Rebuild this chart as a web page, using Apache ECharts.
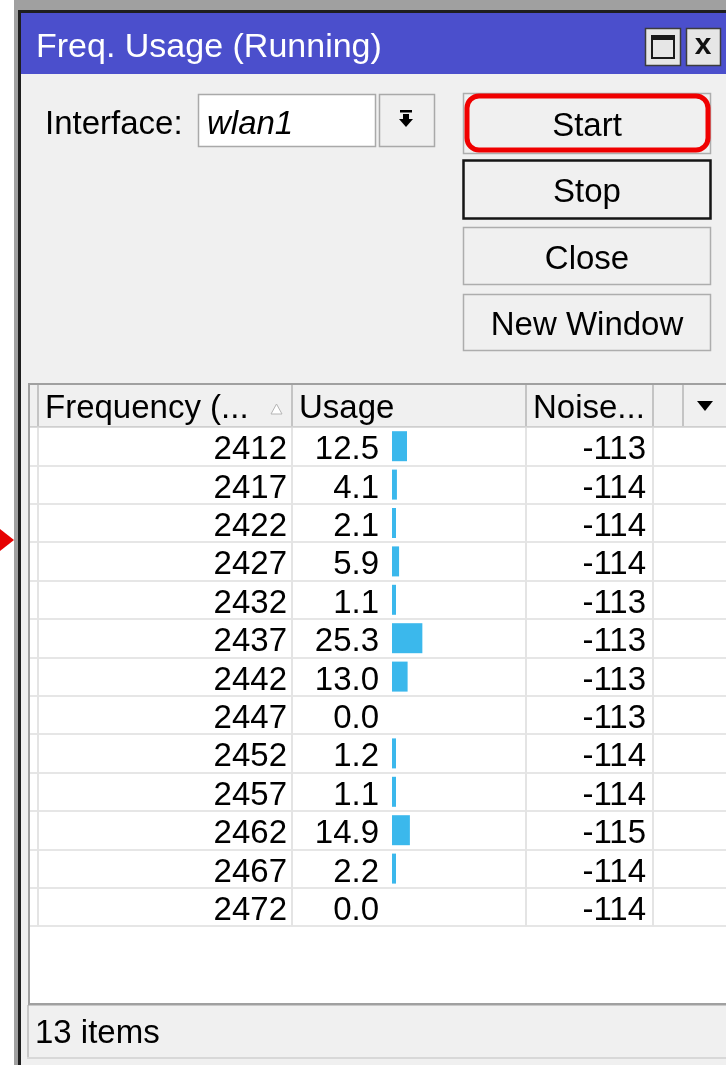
<!DOCTYPE html>
<html>
<head>
<meta charset="utf-8">
<title>Freq. Usage</title>
<script src="https://cdn.jsdelivr.net/npm/echarts@6/dist/echarts.min.js"></script>
<style>
html, body { margin: 0; padding: 0; background: #fff; }
#freqchart { width: 726px; height: 1065px; }
</style>
</head>
<body>
<div id="freqchart"></div>
<script>
var freqs = [2412, 2417, 2422, 2427, 2432, 2437, 2442, 2447, 2452, 2457, 2462, 2467, 2472];
var usage = [12.5, 4.1, 2.1, 5.9, 1.1, 25.3, 13.0, 0.0, 1.2, 1.1, 14.9, 2.2, 0.0];
var noise = [-113, -114, -114, -114, -113, -113, -113, -113, -114, -114, -115, -114, -114];
var columns = ['Frequency (...', 'Usage', 'Noise...'];
var buttons = ['Start', 'Stop', 'Close', 'New Window'];

var FONT = '"Liberation Sans", Arial, sans-serif';
var rowH = 38.4;
var tableTop = 427;
var tableBottom = tableTop + rowH * freqs.length;
var gridLeft = 30;
var gridWidth = 696;
var barX = 392;      // usage bars start here
var pxPerUnit = 1.2;

function box(x, y, w, h, fill, stroke, lw, z)
{
    return {
        type: 'rect', silent: true, z: z || 1,
        shape: {x: x, y: y, width: w, height: h},
        style: {fill: fill || 'none', stroke: stroke || null, lineWidth: lw || 0}
    };
}

function txt(str, x, y, size, opts)
{
    opts = opts || {};
    return {
        type: 'text', silent: true, z: 10,
        style: {
            text: str, x: x, y: y,
            font: (opts.italic ? 'italic ' : '') + (opts.bold ? 'bold ' : '') + size + 'px ' + FONT,
            fill: opts.color || '#000',
            align: opts.align || 'left', textAlign: opts.align || 'left',
            verticalAlign: 'middle', textVerticalAlign: 'middle'
        }
    };
}

function vline(x, y1, y2, color, lw)
{
    return {
        type: 'line', silent: true, z: 5,
        shape: {x1: x, y1: y1, x2: x, y2: y2},
        style: {stroke: color, lineWidth: lw || 1}
    };
}

function poly(points, fill, stroke)
{
    return {
        type: 'polygon', silent: true, z: 10,
        shape: {points: points},
        style: {fill: fill, stroke: stroke || null, lineWidth: 1}
    };
}

function windowchrome()
{
    var els = [];
    // frame + title
    els.push(box(14, 0, 712, 10, '#a0a0a0', null, 0, 0));
    els.push(box(14, 0, 5, 1065, '#a0a0a0', null, 0, 0));
    els.push(box(18, 10, 708, 3, '#1e1e1e', null, 0, 0));
    els.push(box(18, 10, 3, 1055, '#1e1e1e', null, 0, 0));
    els.push(box(21, 13, 705, 61, '#4b4fcc', null, 0, 0));
    els.push(txt('Freq. Usage (Running)', 36, 48, 34, {color: '#fff'}));

    els.push(box(645.5, 28.5, 35, 37, '#e6e6e6', '#3c3c3c', 1.5, 2));
    els.push(box(652, 36, 22, 22, 'none', '#1a1a1a', 2, 3));
    els.push(box(652, 36, 22, 4, '#1a1a1a', null, 0, 3));
    els.push(box(686.5, 28.5, 34, 37, '#e6e6e6', '#3c3c3c', 1.5, 2));
    els.push(txt('x', 703, 46, 30, {bold: true, align: 'center', color: '#111'}));

    // window body
    els.push(box(21, 74, 705, 991, '#f0f0f0', null, 0, 0));

    // arrow on the left
    els.push(poly([[0, 529], [14, 540], [0, 551]], '#e60000'));

    // interface selector
    els.push(txt('Interface:', 45, 125, 33));
    els.push(box(198.5, 94.5, 177, 52, '#fff', '#a9a9a9', 1.5, 1));
    els.push(txt('wlan1', 207, 125, 33, {italic: true}));
    els.push(box(379.5, 94.5, 55, 52, '#f0f0f0', '#a9a9a9', 1.5, 1));
    els.push(box(400, 110, 12, 2.5, '#000', null, 0, 3));
    els.push(poly([[403, 114], [409, 114], [409, 119], [413, 119], [406, 127], [399, 119], [403, 119]], '#000'));

    // buttons
    var tops = [93, 160, 227, 294];
    var hs = [60, 58, 57, 56];
    for (var i = 0; i < buttons.length; i++)
    {
        var stroke = buttons[i] == 'Stop' ? '#151515' : '#adadad';
        var lw = buttons[i] == 'Stop' ? 2.5 : 1.5;
        els.push(box(463.5, tops[i] + 0.5, 247, hs[i], '#f0f0f0', stroke, lw, 1));
        els.push(txt(buttons[i], 587, tops[i] + hs[i] / 2 + 4, 33, {align: 'center'}));
    }
    els.push({
        type: 'rect', silent: true, z: 4,
        shape: {x: 467, y: 96, width: 241, height: 54, r: 12},
        style: {fill: 'none', stroke: '#f00000', lineWidth: 5}
    });

    // table frame and header
    els.push(box(30, 427, 696, 578, '#fff', null, 0, 1));
    els.push(box(30, 385, 696, 42, '#f0f0f0', null, 0, 1));
    els.push(box(28, 383, 698, 2, '#a0a0a0', null, 0, 6));
    els.push(box(28, 383, 2, 622, '#a0a0a0', null, 0, 6));
    els.push(box(28, 1003, 698, 2.5, '#a0a0a0', null, 0, 6));
    els.push(box(30, 426, 696, 1.5, '#cfcfcf', null, 0, 6));
    var hsep = [38, 292, 526, 653, 683];
    for (var k = 0; k < hsep.length; k++)
        els.push(vline(hsep[k], 385, 427, '#c4c4c4', 2));
    var bsep = [38, 292, 526, 653];
    for (var m = 0; m < bsep.length; m++)
        els.push(vline(bsep[m], 427, tableBottom, '#e4e4e4', 2));

    els.push(txt(columns[0], 45, 409, 33));
    els.push(txt(columns[1], 299, 409, 33));
    els.push(txt(columns[2], 533, 409, 33));
    els.push(poly([[271, 414], [282, 414], [276.5, 404]], '#fff', '#b4b4b4'));
    els.push(poly([[697, 401], [713, 401], [705, 411]], '#000'));

    // status bar
    els.push(box(27, 1005, 2, 53, '#c8c8c8', null, 0, 2));
    els.push(box(27, 1057, 699, 2, '#d8d8d8', null, 0, 2));
    els.push(txt(freqs.length + ' items', 35, 1034, 33));
    return els;
}

// category axis; labels drawn inside the grid, right aligned at margin
function colaxis(data, grid, margin, withlines)
{
    return {
        type: 'category',
        gridIndex: grid,
        position: 'left',
        inverse: true,
        z: 3,
        data: data,
        axisLine: {show: false, onZero: false},
        axisTick: {show: false},
        splitLine: {show: withlines, lineStyle: {color: '#e6e6e6', width: 2}},
        axisLabel: {
            show: margin > 0,
            inside: true,
            align: 'right',
            margin: margin,
            interval: 0,
            color: '#000',
            fontSize: 33,
            fontFamily: FONT
        }
    };
}

var myChart = echarts.init(document.getElementById('freqchart'), null, {renderer: 'canvas'});

var option = {
    backgroundColor: '#fff',
    animation: false,
    grid: [
        {
            left: gridLeft, top: tableTop, width: gridWidth, height: rowH * freqs.length,
            containLabel: false, outerBoundsMode: 'none'
        },
        {
            // text rows sit a few pixels below the row centre
            left: gridLeft, top: tableTop + 4, width: gridWidth, height: rowH * freqs.length,
            containLabel: false, outerBoundsMode: 'none'
        }
    ],
    xAxis: [
        {
            type: 'value', gridIndex: 0,
            min: -(barX - gridLeft) / pxPerUnit,
            max: (gridLeft + gridWidth - barX) / pxPerUnit,
            show: false
        },
        {type: 'value', gridIndex: 1, min: 0, max: 1, show: false}
    ],
    yAxis: [
        colaxis(freqs.map(String), 0, 0, true),
        colaxis(freqs.map(String), 1, 287 - gridLeft, false),
        colaxis(usage.map(function (v) { return v.toFixed(1); }), 1, 379 - gridLeft, false),
        colaxis(noise.map(String), 1, 646 - gridLeft, false)
    ],
    series: [
        {
            name: 'Usage',
            type: 'bar',
            xAxisIndex: 0,
            yAxisIndex: 0,
            z: 4,
            silent: true,
            barWidth: 30,
            barMinHeight: 4,
            itemStyle: {color: '#3bb8ec'},
            data: usage.map(function (v) { return v > 0 ? v : '-'; })
        }
    ],
    graphic: {elements: windowchrome()}
};
myChart.setOption(option);
</script>
</body>
</html>
